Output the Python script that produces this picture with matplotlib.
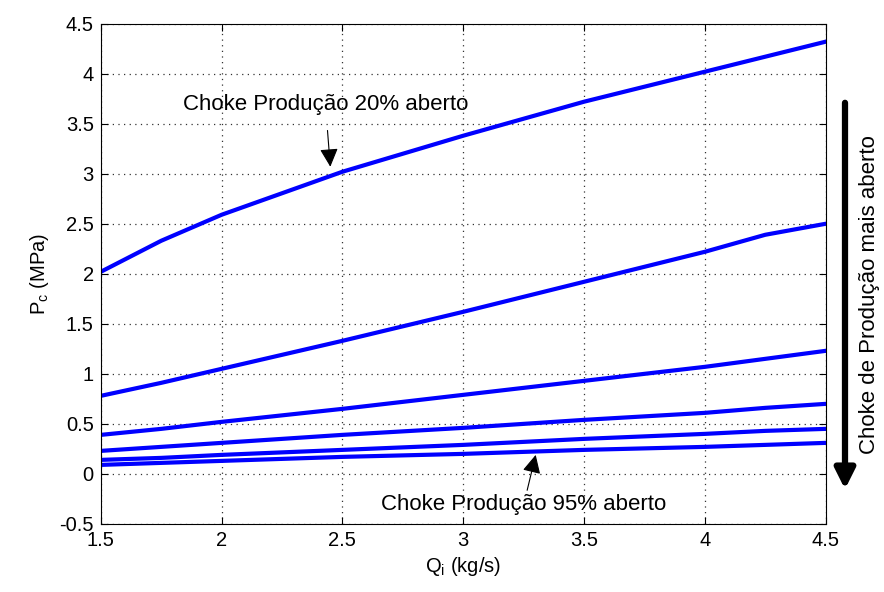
import matplotlib.pyplot as plt
import numpy as np

plt.rcParams['font.family'] = ['Liberation Sans', 'DejaVu Sans']

# flow rate Qi (kg/s)
qi = [1.5, 1.75, 2.0, 2.5, 3.0, 3.5, 4.0, 4.25, 4.5]

# casing pressure Pc (MPa) for each production choke opening
pc_20 = [2.02, 2.33, 2.59, 3.02, 3.38, 3.72, 4.02, 4.17, 4.32]
pc_b = [0.78, 0.91, 1.05, 1.33, 1.62, 1.92, 2.22, 2.39, 2.50]
pc_c = [0.39, 0.45, 0.52, 0.65, 0.79, 0.93, 1.07, 1.15, 1.23]
pc_d = [0.23, 0.27, 0.31, 0.39, 0.46, 0.54, 0.61, 0.66, 0.70]
pc_e = [0.14, 0.16, 0.19, 0.24, 0.29, 0.35, 0.40, 0.43, 0.45]
pc_95 = [0.09, 0.11, 0.13, 0.17, 0.20, 0.24, 0.27, 0.29, 0.31]

fig = plt.figure(figsize=(8.84, 5.92), dpi=100)
ax = fig.add_axes([0.114, 0.115, 0.820, 0.845])

for pc in [pc_20, pc_b, pc_c, pc_d, pc_e, pc_95]:
    ax.plot(qi, pc, color='#0000ff', linewidth=3.0)

ax.set_xlim(1.5, 4.5)
ax.set_ylim(-0.5, 4.5)
ax.set_xticks(np.arange(1.5, 4.51, 0.5))
ax.set_yticks(np.arange(-0.5, 4.51, 0.5))
ax.set_xticklabels(['1.5', '2', '2.5', '3', '3.5', '4', '4.5'])
ax.set_yticklabels(['-0.5', '0', '0.5', '1', '1.5', '2', '2.5', '3', '3.5', '4', '4.5'])
ax.tick_params(direction='in', top=True, right=True, labelsize=14.5, length=5, pad=5)
ax.grid(True, linestyle=(0, (1, 3.5)), color='#333333', linewidth=0.9)
ax.set_xlabel('Q$_\\mathregular{i}$ (kg/s)', fontsize=14.5, labelpad=4)
ax.set_ylabel('P$_\\mathregular{c}$ (MPa)', fontsize=14.5, labelpad=6)

ax.annotate('Choke Produção 20% aberto', xy=(2.45, 3.07), xytext=(2.43, 3.69),
            ha='center', va='center', fontsize=16,
            arrowprops=dict(arrowstyle='-|>', color='black', lw=0.8,
                            mutation_scale=28, shrinkA=9, shrinkB=0))
ax.annotate('Choke Produção 95% aberto', xy=(3.30, 0.19), xytext=(3.25, -0.31),
            ha='center', va='center', fontsize=16,
            arrowprops=dict(arrowstyle='-|>', color='black', lw=0.8,
                            mutation_scale=28, shrinkA=1, shrinkB=0))

# big arrow outside the axes on the right
fig.patches.append(plt.matplotlib.patches.FancyArrowPatch(
    (845 / 884, 1 - 100 / 592), (845 / 884, 1 - 492 / 592),
    transform=fig.transFigure, arrowstyle='-|>', mutation_scale=30,
    color='black', lw=4.5))
fig.text(870 / 884, 1 - 295 / 592, 'Choke de Produção mais aberto',
         rotation=90, ha='center', va='center', fontsize=16)

fig.savefig('out.png', dpi=100)
